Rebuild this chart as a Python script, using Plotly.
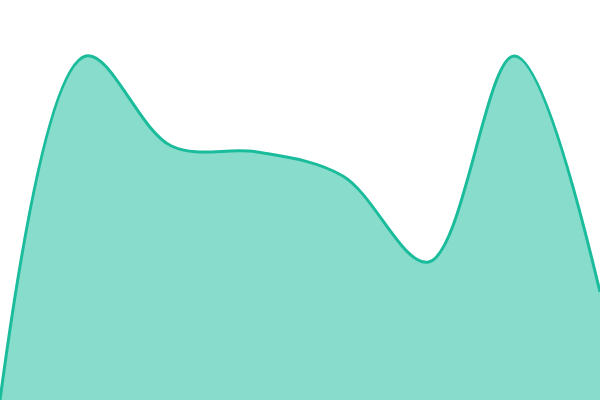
import plotly.graph_objects as go

# evenly spaced samples (0 = bottom, 400 = top)
x_vals = [0, 1, 2, 3, 4, 5, 6, 7]
y_vals = [0, 344, 254, 248, 224, 138, 344, 108]

line_color = "#1abc9c"

fig = go.Figure(
    data=[
        go.Scatter(
            x=x_vals,
            y=y_vals,
            mode="lines",
            line=dict(color=line_color, width=3, shape="spline", smoothing=1),
            fill="tozeroy",
            fillcolor="rgba(26,188,156,0.52)",
            hoverinfo="skip",
        )
    ],
    layout=go.Layout(
        width=600,
        height=400,
        margin=dict(l=0, r=0, t=0, b=0),
        paper_bgcolor="white",
        plot_bgcolor="white",
        showlegend=False,
        xaxis=dict(visible=False, range=[0, 7], fixedrange=True),
        yaxis=dict(visible=False, range=[0, 400], fixedrange=True),
    ),
)

# drop the default page margin so the chart sits flush in the window
fig.write_html(
    "out.html",
    config={"displayModeBar": False},
    post_script="document.body.style.margin='0';document.body.style.overflow='hidden';",
)
